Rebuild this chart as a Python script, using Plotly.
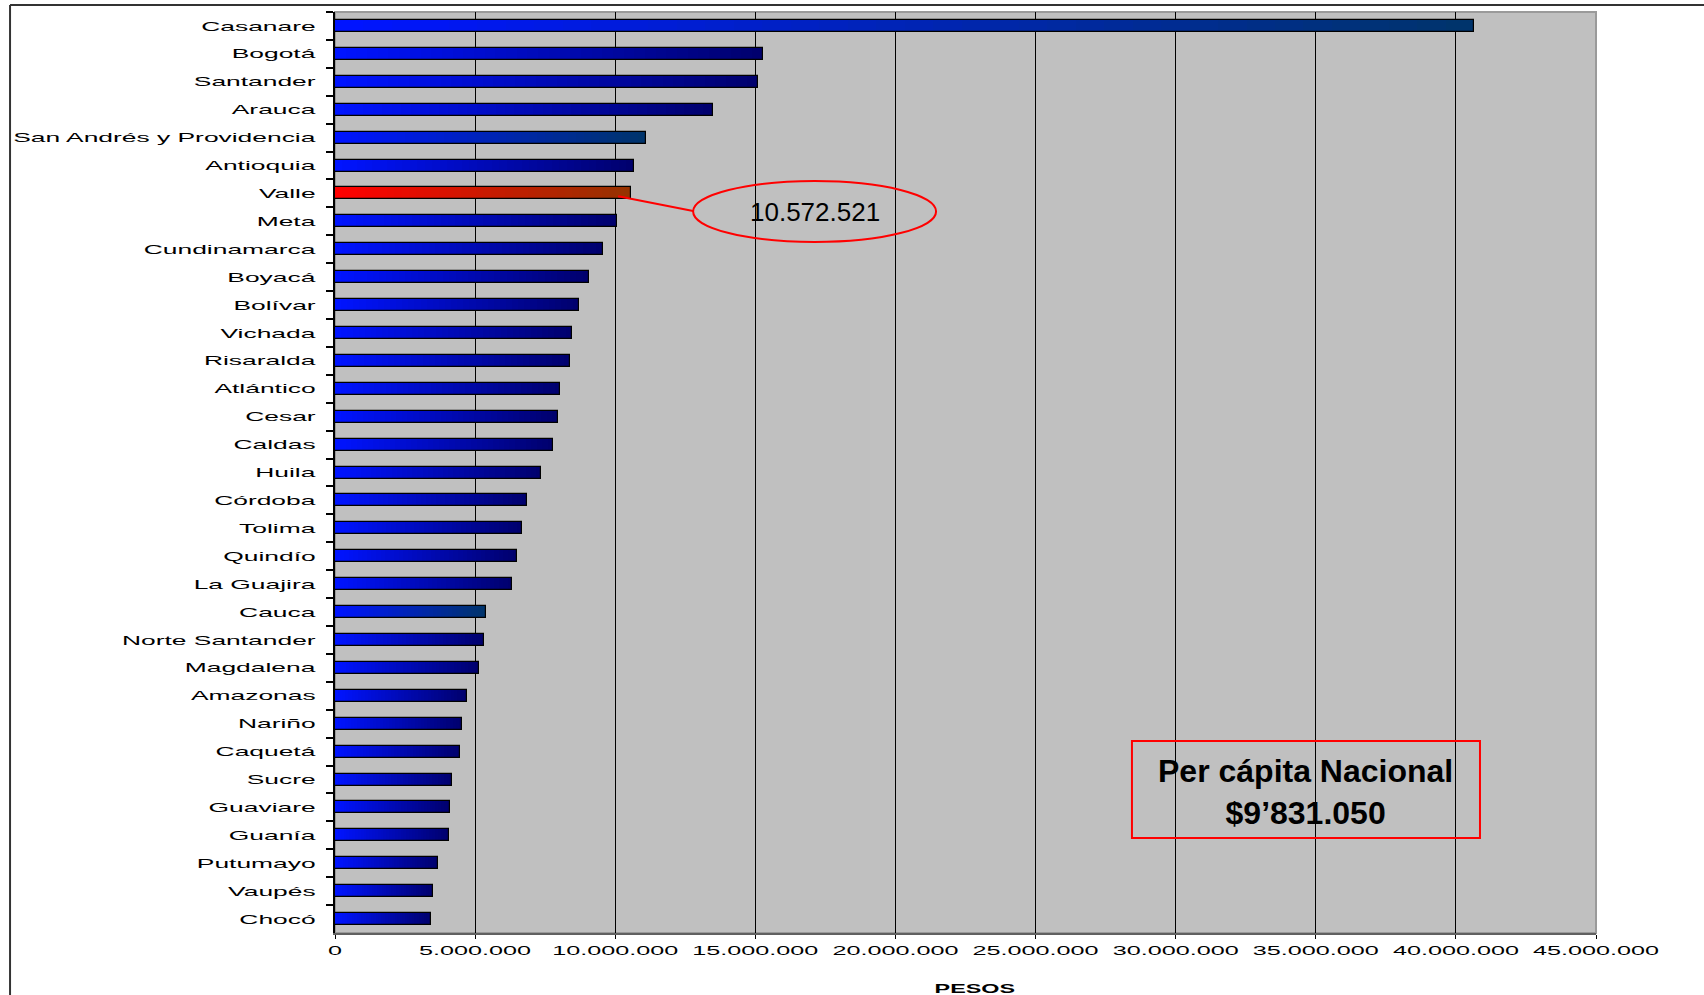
import plotly.graph_objects as go

# ---------------- data ----------------
departments = [
    "Casanare", "Bogotá", "Santander", "Arauca", "San Andrés y Providencia",
    "Antioquia", "Valle", "Meta", "Cundinamarca", "Boyacá", "Bolívar",
    "Vichada", "Risaralda", "Atlántico", "Cesar", "Caldas", "Huila",
    "Córdoba", "Tolima", "Quindío", "La Guajira", "Cauca", "Norte Santander",
    "Magdalena", "Amazonas", "Nariño", "Caquetá", "Sucre", "Guaviare",
    "Guanía", "Putumayo", "Vaupés", "Chocó",
]
pib_per_capita = [
    40660000, 15260000, 15080000, 13480000, 11090000,
    10660000, 10572521, 10050000, 9560000, 9070000, 8720000,
    8460000, 8380000, 8040000, 7950000, 7780000, 7350000,
    6840000, 6670000, 6500000, 6320000, 5380000, 5300000,
    5140000, 4720000, 4540000, 4450000, 4190000, 4090000,
    4070000, 3670000, 3500000, 3430000,
]
tick_vals = [0, 5000000, 10000000, 15000000, 20000000, 25000000,
             30000000, 35000000, 40000000, 45000000]
tick_text = ["0", "5.000.000", "10.000.000", "15.000.000", "20.000.000",
             "25.000.000", "30.000.000", "35.000.000", "40.000.000",
             "45.000.000"]
x_title = "PESOS"
highlight_name = "Valle"
teal_names = {"Casanare", "San Andrés y Providencia", "Cauca"}
national_label = "Per cápita Nacional"
national_value = "$9’831.050"

# ---------------- styling ----------------
FONT = "Liberation Sans, Arial, sans-serif"
BLUE_START = (0, 20, 255)
BLUE_END = (0, 0, 110)
TEAL_END = (0, 52, 108)
RED_START = (255, 0, 0)
RED_END = (150, 50, 0)


def mix(a, b, t):
    return "rgb(%d,%d,%d)" % tuple(round(a[i] + (b[i] - a[i]) * t) for i in range(3))


starts, ends = [], []
for name in departments:
    if name == highlight_name:
        starts.append(RED_START); ends.append(RED_END)
    elif name in teal_names:
        starts.append(BLUE_START); ends.append(TEAL_END)
    else:
        starts.append(BLUE_START); ends.append(BLUE_END)

fig = go.Figure()
BAR_W = 0.43
N = 40
for k in range(N):
    t = k / (N - 1)
    fig.add_trace(go.Bar(
        y=departments,
        x=[v * (N - k) / N for v in pib_per_capita],
        base=[v * k / N for v in pib_per_capita],
        orientation="h",
        width=BAR_W,
        marker=dict(color=[mix(s, e, t) for s, e in zip(starts, ends)],
                    line=dict(width=0)),
        hoverinfo="skip",
        showlegend=False,
    ))

# outline of each bar
fig.add_trace(go.Bar(
    y=departments,
    x=pib_per_capita,
    orientation="h",
    width=BAR_W,
    marker=dict(color="rgba(0,0,0,0)", line=dict(color="#000000", width=1.2)),
    showlegend=False,
    hovertemplate="%{y}: %{x:,.0f}<extra></extra>",
))

valle_idx = departments.index(highlight_name)
valle_val = pib_per_capita[valle_idx]
valle_text = f"{valle_val:,}".replace(",", ".")

shapes = [
    # plot area border
    dict(type="rect", xref="paper", yref="paper", x0=0, x1=1, y0=0, y1=1,
         line=dict(color="#9a9a9a", width=2), layer="below"),
    # outer chart-area border (top and left)
    dict(type="line", xref="paper", yref="paper", x0=-0.2577, x1=1.09,
         y0=1.0076, y1=1.0076, line=dict(color="#333333", width=2)),
    dict(type="line", xref="paper", yref="paper", x0=-0.2577, x1=-0.2577,
         y0=1.0076, y1=-0.08, line=dict(color="#333333", width=2)),
    # callout for Valle
    dict(type="line", xref="x", yref="y", x0=valle_val - 470000, y0=valle_idx + 0.1,
         x1=12780000, y1=valle_idx + 0.63, line=dict(color="#ff0000", width=2)),
    dict(type="circle", xref="x", yref="y", x0=12780000, x1=21450000,
         y0=5.555, y1=7.741, line=dict(color="#ff0000", width=2)),
    # national per capita box
    dict(type="rect", xref="x", yref="y", x0=28440000, x1=40860000,
         y0=25.62, y1=29.10, line=dict(color="#ff0000", width=2)),
]

annotations = [
    dict(x=17115000, y=6.66, xref="x", yref="y", text=valle_text,
         showarrow=False, font=dict(family=FONT, size=26, color="#000000")),
    dict(x=34650000, y=27.45, xref="x", yref="y",
         text="<b>" + national_label + "<br>" + national_value + "</b>",
         showarrow=False, align="center",
         font=dict(family=FONT, size=32, color="#000000")),
    dict(x=0.507, y=-0.061, xref="paper", yref="paper", yanchor="middle",
         text="<b>" + x_title + "</b>", showarrow=False,
         font=dict(family=FONT, size=12, color="#000000")),
]

fig.update_layout(
    width=1704, height=995, autosize=False,
    margin=dict(l=335, r=108, t=12, b=62, pad=0),
    paper_bgcolor="#ffffff",
    plot_bgcolor="#c0c0c0",
    barmode="overlay",
    bargap=0,
    showlegend=False,
    font=dict(family=FONT, color="#000000"),
    shapes=shapes,
    annotations=annotations,
    xaxis=dict(
        range=[0, 45000000],
        tickvals=tick_vals, ticktext=tick_text,
        showgrid=True, gridcolor="#000000", gridwidth=1,
        zeroline=False,
        showline=True, linecolor="#606060", linewidth=2,
        ticks="outside", ticklen=4, tickcolor="#000000", tickwidth=1,
        tickfont=dict(family=FONT, size=12, color="#000000"),
        ticklabelstandoff=2,
        automargin=False,
        fixedrange=True,
    ),
    yaxis=dict(
        type="category",
        categoryorder="array", categoryarray=departments,
        range=[len(departments) - 0.5, -0.5],
        showgrid=False, zeroline=False,
        showline=True, linecolor="#000000", linewidth=1.5,
        ticks="outside", ticklen=7, tickcolor="#000000", tickwidth=1.5,
        tickson="boundaries",
        tickfont=dict(family=FONT, size=13, color="#000000"),
        ticklabelstandoff=15,
        automargin=False,
        fixedrange=True,
    ),
)

post = """
var s = document.createElement('style');
s.textContent = 'html,body{margin:0;padding:0;overflow:hidden;background:#fff}' +
 'g.ytick{transform-box:fill-box;transform-origin:100% 50%;transform:scaleX(2.03)}' +
 'g.xtick{transform-box:fill-box;transform-origin:50% 50%;transform:scaleX(2.1)}' +
 'g.annotation:last-of-type{transform-box:fill-box;transform-origin:50% 50%;transform:scaleX(1.95)}';
document.head.appendChild(s);
"""

fig.write_html("out.html", post_script=post, config={"displayModeBar": False})
